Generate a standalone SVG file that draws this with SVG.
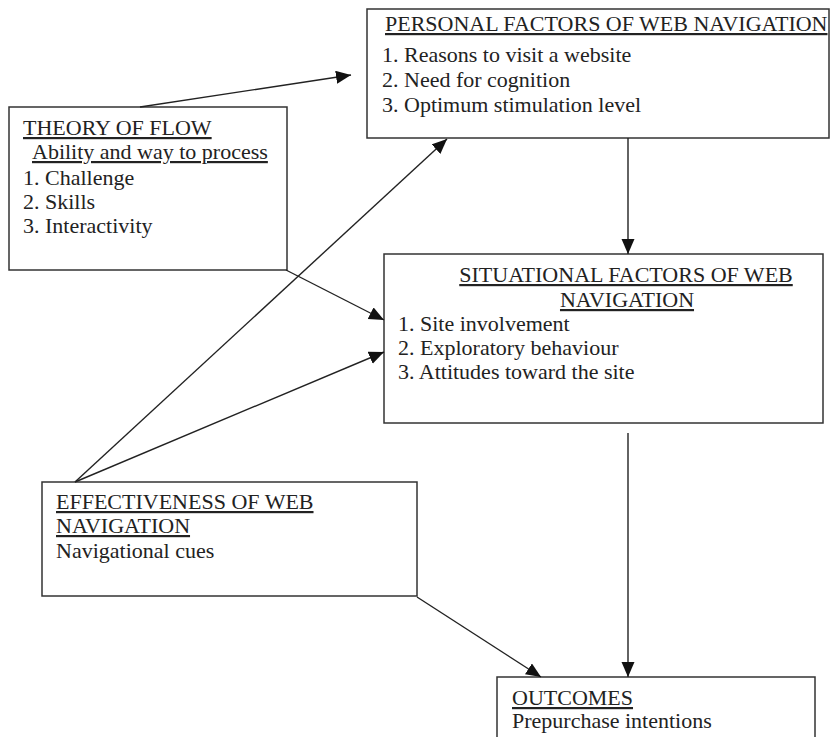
<svg xmlns="http://www.w3.org/2000/svg" width="831" height="737" viewBox="0 0 831 737">
<defs>
<style>
.box{fill:#fff;stroke:#333;stroke-width:1.5}
.t{font-size:22px;fill:#222}
.u{text-decoration:underline}
.c{fill:none;stroke:#222;stroke-width:1.4}
</style>
<marker id="ah" markerUnits="userSpaceOnUse" markerWidth="16" markerHeight="14" refX="15" refY="6.5" orient="auto">
<path d="M0,0 L15,6.5 L0,13 z" fill="#111"/>
</marker>
</defs>
<rect width="831" height="737" fill="#fff"/>
<g font-family="'Liberation Serif', 'Times New Roman', Times, serif">
<g id="personal">
<rect class="box" x="367" y="9" width="462" height="129"/>
<text class="t u" x="385" y="31">PERSONAL FACTORS OF WEB NAVIGATION</text>
<text class="t" x="382" y="62">1. Reasons to visit a website</text>
<text class="t" x="382" y="87">2. Need for cognition</text>
<text class="t" x="382" y="112">3. Optimum stimulation level</text>
</g>
<g id="theory">
<rect class="box" x="9" y="107" width="278" height="163"/>
<text class="t u" x="23" y="135">THEORY OF FLOW</text>
<text class="t u" x="32" y="159">Ability and way to process</text>
<text class="t" x="23" y="185">1. Challenge</text>
<text class="t" x="23" y="209">2. Skills</text>
<text class="t" x="23" y="233">3. Interactivity</text>
</g>
<g id="situational">
<rect class="box" x="384" y="254" width="439" height="169"/>
<text class="t u" x="626" y="282" text-anchor="middle">SITUATIONAL FACTORS OF WEB</text>
<text class="t u" x="627" y="307" text-anchor="middle">NAVIGATION</text>
<text class="t" x="398" y="331">1. Site involvement</text>
<text class="t" x="398" y="355">2. Exploratory behaviour</text>
<text class="t" x="398" y="379">3. Attitudes toward the site</text>
</g>
<g id="effectiveness">
<rect class="box" x="42" y="482" width="375" height="114"/>
<text class="t u" x="56" y="509">EFFECTIVENESS OF WEB</text>
<text class="t u" x="56" y="533">NAVIGATION</text>
<text class="t" x="56" y="558">Navigational cues</text>
</g>
<g id="outcomes">
<rect class="box" x="497" y="677" width="318" height="80"/>
<text class="t u" x="512" y="705">OUTCOMES</text>
<text class="t" x="512" y="728">Prepurchase intentions</text>
</g>
</g>
<g id="connectors">
<line class="c" x1="140" y1="107" x2="351" y2="75" marker-end="url(#ah)"/>
<line class="c" x1="75" y1="482" x2="447" y2="139" marker-end="url(#ah)"/>
<line class="c" x1="286" y1="270" x2="384" y2="320" marker-end="url(#ah)"/>
<line class="c" x1="75" y1="482" x2="384" y2="352" marker-end="url(#ah)"/>
<line class="c" x1="628" y1="138" x2="628" y2="254" marker-end="url(#ah)"/>
<line class="c" x1="628" y1="433" x2="628" y2="677" marker-end="url(#ah)"/>
<line class="c" x1="417" y1="597" x2="541" y2="677" marker-end="url(#ah)"/>
</g>
</svg>
